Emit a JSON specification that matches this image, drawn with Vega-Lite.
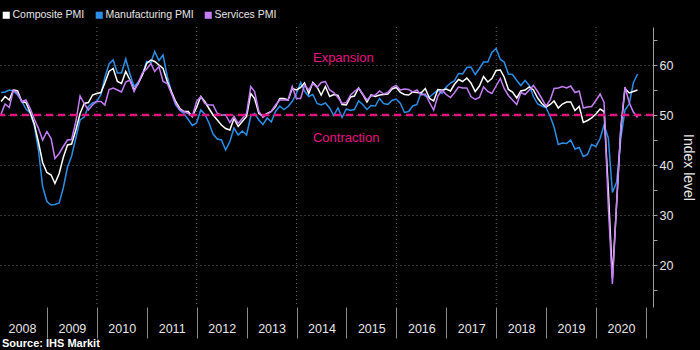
{
"$schema": "https://vega.github.io/schema/vega-lite/v6.json",
"width": 653,
"height": 280,
"autosize": {"type": "none"},
"padding": {"left": 0, "top": 27, "right": 47, "bottom": 43},
"background": "#000000",
"config": {"view": {"stroke": null}, "font": "Liberation Sans"},
"title": {"text": "Source: IHS Markit", "orient": "bottom", "anchor": "start", "frame": "group", "fontSize": 11, "fontWeight": "bold", "color": "#ffffff", "offset": -1, "dx": 2},
"datasets": {
"pmi": [
{"d":"2008-01-31","s":"Manufacturing PMI","v":54.5},{"d":"2008-02-29","s":"Manufacturing PMI","v":54.6},{"d":"2008-03-31","s":"Manufacturing PMI","v":55.0},{"d":"2008-04-30","s":"Manufacturing PMI","v":54.8},{"d":"2008-05-31","s":"Manufacturing PMI","v":54.0},{"d":"2008-06-30","s":"Manufacturing PMI","v":52.8},{"d":"2008-07-31","s":"Manufacturing PMI","v":51.2},{"d":"2008-08-31","s":"Manufacturing PMI","v":50.4},{"d":"2008-09-30","s":"Manufacturing PMI","v":47.9},{"d":"2008-10-31","s":"Manufacturing PMI","v":42.9},{"d":"2008-11-30","s":"Manufacturing PMI","v":35.7},{"d":"2008-12-31","s":"Manufacturing PMI","v":32.7},
{"d":"2009-01-31","s":"Manufacturing PMI","v":32.0},{"d":"2009-02-28","s":"Manufacturing PMI","v":32.1},{"d":"2009-03-31","s":"Manufacturing PMI","v":32.4},{"d":"2009-04-30","s":"Manufacturing PMI","v":35.4},{"d":"2009-05-31","s":"Manufacturing PMI","v":39.6},{"d":"2009-06-30","s":"Manufacturing PMI","v":41.8},{"d":"2009-07-31","s":"Manufacturing PMI","v":45.4},{"d":"2009-08-31","s":"Manufacturing PMI","v":49.0},{"d":"2009-09-30","s":"Manufacturing PMI","v":49.6},{"d":"2009-10-31","s":"Manufacturing PMI","v":51.7},{"d":"2009-11-30","s":"Manufacturing PMI","v":52.4},{"d":"2009-12-31","s":"Manufacturing PMI","v":52.7},
{"d":"2010-01-31","s":"Manufacturing PMI","v":54.1},{"d":"2010-02-28","s":"Manufacturing PMI","v":57.5},{"d":"2010-03-31","s":"Manufacturing PMI","v":60.2},{"d":"2010-04-30","s":"Manufacturing PMI","v":61.0},{"d":"2010-05-31","s":"Manufacturing PMI","v":58.4},{"d":"2010-06-30","s":"Manufacturing PMI","v":58.4},{"d":"2010-07-31","s":"Manufacturing PMI","v":61.2},{"d":"2010-08-31","s":"Manufacturing PMI","v":58.2},{"d":"2010-09-30","s":"Manufacturing PMI","v":55.7},{"d":"2010-10-31","s":"Manufacturing PMI","v":56.6},{"d":"2010-11-30","s":"Manufacturing PMI","v":58.1},{"d":"2010-12-31","s":"Manufacturing PMI","v":60.7},
{"d":"2011-01-31","s":"Manufacturing PMI","v":60.5},{"d":"2011-02-28","s":"Manufacturing PMI","v":62.7},{"d":"2011-03-31","s":"Manufacturing PMI","v":60.9},{"d":"2011-04-30","s":"Manufacturing PMI","v":62.0},{"d":"2011-05-31","s":"Manufacturing PMI","v":57.7},{"d":"2011-06-30","s":"Manufacturing PMI","v":54.6},{"d":"2011-07-31","s":"Manufacturing PMI","v":52.0},{"d":"2011-08-31","s":"Manufacturing PMI","v":50.9},{"d":"2011-09-30","s":"Manufacturing PMI","v":50.3},{"d":"2011-10-31","s":"Manufacturing PMI","v":49.1},{"d":"2011-11-30","s":"Manufacturing PMI","v":47.9},{"d":"2011-12-31","s":"Manufacturing PMI","v":48.4},
{"d":"2012-01-31","s":"Manufacturing PMI","v":51.0},{"d":"2012-02-29","s":"Manufacturing PMI","v":50.2},{"d":"2012-03-31","s":"Manufacturing PMI","v":48.4},{"d":"2012-04-30","s":"Manufacturing PMI","v":46.2},{"d":"2012-05-31","s":"Manufacturing PMI","v":45.2},{"d":"2012-06-30","s":"Manufacturing PMI","v":45.0},{"d":"2012-07-31","s":"Manufacturing PMI","v":43.0},{"d":"2012-08-31","s":"Manufacturing PMI","v":44.7},{"d":"2012-09-30","s":"Manufacturing PMI","v":47.4},{"d":"2012-10-31","s":"Manufacturing PMI","v":46.0},{"d":"2012-11-30","s":"Manufacturing PMI","v":46.8},{"d":"2012-12-31","s":"Manufacturing PMI","v":46.0},
{"d":"2013-01-31","s":"Manufacturing PMI","v":49.8},{"d":"2013-02-28","s":"Manufacturing PMI","v":50.3},{"d":"2013-03-31","s":"Manufacturing PMI","v":49.0},{"d":"2013-04-30","s":"Manufacturing PMI","v":48.1},{"d":"2013-05-31","s":"Manufacturing PMI","v":49.4},{"d":"2013-06-30","s":"Manufacturing PMI","v":48.6},{"d":"2013-07-31","s":"Manufacturing PMI","v":50.7},{"d":"2013-08-31","s":"Manufacturing PMI","v":51.8},{"d":"2013-09-30","s":"Manufacturing PMI","v":51.1},{"d":"2013-10-31","s":"Manufacturing PMI","v":51.7},{"d":"2013-11-30","s":"Manufacturing PMI","v":52.7},{"d":"2013-12-31","s":"Manufacturing PMI","v":54.3},
{"d":"2014-01-31","s":"Manufacturing PMI","v":56.5},{"d":"2014-02-28","s":"Manufacturing PMI","v":54.8},{"d":"2014-03-31","s":"Manufacturing PMI","v":53.7},{"d":"2014-04-30","s":"Manufacturing PMI","v":54.1},{"d":"2014-05-31","s":"Manufacturing PMI","v":52.3},{"d":"2014-06-30","s":"Manufacturing PMI","v":52.0},{"d":"2014-07-31","s":"Manufacturing PMI","v":52.4},{"d":"2014-08-31","s":"Manufacturing PMI","v":51.4},{"d":"2014-09-30","s":"Manufacturing PMI","v":49.9},{"d":"2014-10-31","s":"Manufacturing PMI","v":51.4},{"d":"2014-11-30","s":"Manufacturing PMI","v":49.5},{"d":"2014-12-31","s":"Manufacturing PMI","v":51.2},
{"d":"2015-01-31","s":"Manufacturing PMI","v":50.9},{"d":"2015-02-28","s":"Manufacturing PMI","v":51.1},{"d":"2015-03-31","s":"Manufacturing PMI","v":52.8},{"d":"2015-04-30","s":"Manufacturing PMI","v":52.1},{"d":"2015-05-31","s":"Manufacturing PMI","v":51.1},{"d":"2015-06-30","s":"Manufacturing PMI","v":51.9},{"d":"2015-07-31","s":"Manufacturing PMI","v":51.8},{"d":"2015-08-31","s":"Manufacturing PMI","v":53.3},{"d":"2015-09-30","s":"Manufacturing PMI","v":52.3},{"d":"2015-10-31","s":"Manufacturing PMI","v":52.1},{"d":"2015-11-30","s":"Manufacturing PMI","v":52.9},{"d":"2015-12-31","s":"Manufacturing PMI","v":53.2},
{"d":"2016-01-31","s":"Manufacturing PMI","v":52.3},{"d":"2016-02-29","s":"Manufacturing PMI","v":50.5},{"d":"2016-03-31","s":"Manufacturing PMI","v":50.7},{"d":"2016-04-30","s":"Manufacturing PMI","v":51.8},{"d":"2016-05-31","s":"Manufacturing PMI","v":52.1},{"d":"2016-06-30","s":"Manufacturing PMI","v":54.5},{"d":"2016-07-31","s":"Manufacturing PMI","v":53.8},{"d":"2016-08-31","s":"Manufacturing PMI","v":53.6},{"d":"2016-09-30","s":"Manufacturing PMI","v":54.3},{"d":"2016-10-31","s":"Manufacturing PMI","v":55.0},{"d":"2016-11-30","s":"Manufacturing PMI","v":54.3},{"d":"2016-12-31","s":"Manufacturing PMI","v":55.6},
{"d":"2017-01-31","s":"Manufacturing PMI","v":56.4},{"d":"2017-02-28","s":"Manufacturing PMI","v":56.8},{"d":"2017-03-31","s":"Manufacturing PMI","v":58.3},{"d":"2017-04-30","s":"Manufacturing PMI","v":58.2},{"d":"2017-05-31","s":"Manufacturing PMI","v":59.5},{"d":"2017-06-30","s":"Manufacturing PMI","v":59.6},{"d":"2017-07-31","s":"Manufacturing PMI","v":58.1},{"d":"2017-08-31","s":"Manufacturing PMI","v":59.3},{"d":"2017-09-30","s":"Manufacturing PMI","v":60.6},{"d":"2017-10-31","s":"Manufacturing PMI","v":60.6},{"d":"2017-11-30","s":"Manufacturing PMI","v":62.5},{"d":"2017-12-31","s":"Manufacturing PMI","v":63.3},
{"d":"2018-01-31","s":"Manufacturing PMI","v":61.1},{"d":"2018-02-28","s":"Manufacturing PMI","v":60.6},{"d":"2018-03-31","s":"Manufacturing PMI","v":58.2},{"d":"2018-04-30","s":"Manufacturing PMI","v":58.1},{"d":"2018-05-31","s":"Manufacturing PMI","v":56.9},{"d":"2018-06-30","s":"Manufacturing PMI","v":55.9},{"d":"2018-07-31","s":"Manufacturing PMI","v":56.9},{"d":"2018-08-31","s":"Manufacturing PMI","v":55.9},{"d":"2018-09-30","s":"Manufacturing PMI","v":53.7},{"d":"2018-10-31","s":"Manufacturing PMI","v":52.2},{"d":"2018-11-30","s":"Manufacturing PMI","v":51.8},{"d":"2018-12-31","s":"Manufacturing PMI","v":51.5},
{"d":"2019-01-31","s":"Manufacturing PMI","v":49.7},{"d":"2019-02-28","s":"Manufacturing PMI","v":47.6},{"d":"2019-03-31","s":"Manufacturing PMI","v":44.1},{"d":"2019-04-30","s":"Manufacturing PMI","v":44.4},{"d":"2019-05-31","s":"Manufacturing PMI","v":44.3},{"d":"2019-06-30","s":"Manufacturing PMI","v":45.0},{"d":"2019-07-31","s":"Manufacturing PMI","v":43.2},{"d":"2019-08-31","s":"Manufacturing PMI","v":43.5},{"d":"2019-09-30","s":"Manufacturing PMI","v":41.7},{"d":"2019-10-31","s":"Manufacturing PMI","v":42.1},{"d":"2019-11-30","s":"Manufacturing PMI","v":44.1},{"d":"2019-12-31","s":"Manufacturing PMI","v":43.7},
{"d":"2020-01-31","s":"Manufacturing PMI","v":45.3},{"d":"2020-02-29","s":"Manufacturing PMI","v":48.0},{"d":"2020-03-31","s":"Manufacturing PMI","v":45.4},{"d":"2020-04-30","s":"Manufacturing PMI","v":34.5},{"d":"2020-05-31","s":"Manufacturing PMI","v":36.6},{"d":"2020-06-30","s":"Manufacturing PMI","v":45.2},{"d":"2020-07-31","s":"Manufacturing PMI","v":51.0},{"d":"2020-08-31","s":"Manufacturing PMI","v":52.2},{"d":"2020-09-30","s":"Manufacturing PMI","v":56.4},{"d":"2020-10-31","s":"Manufacturing PMI","v":58.2},
{"d":"2008-01-31","s":"Composite PMI","v":52.7},{"d":"2008-02-29","s":"Composite PMI","v":53.7},{"d":"2008-03-31","s":"Composite PMI","v":53.0},{"d":"2008-04-30","s":"Composite PMI","v":55.0},{"d":"2008-05-31","s":"Composite PMI","v":54.8},{"d":"2008-06-30","s":"Composite PMI","v":52.7},{"d":"2008-07-31","s":"Composite PMI","v":52.5},{"d":"2008-08-31","s":"Composite PMI","v":50.5},{"d":"2008-09-30","s":"Composite PMI","v":48.2},{"d":"2008-10-31","s":"Composite PMI","v":44.5},{"d":"2008-11-30","s":"Composite PMI","v":40.5},{"d":"2008-12-31","s":"Composite PMI","v":38.5},
{"d":"2009-01-31","s":"Composite PMI","v":38.0},{"d":"2009-02-28","s":"Composite PMI","v":36.3},{"d":"2009-03-31","s":"Composite PMI","v":38.3},{"d":"2009-04-30","s":"Composite PMI","v":41.5},{"d":"2009-05-31","s":"Composite PMI","v":44.0},{"d":"2009-06-30","s":"Composite PMI","v":44.2},{"d":"2009-07-31","s":"Composite PMI","v":47.0},{"d":"2009-08-31","s":"Composite PMI","v":50.3},{"d":"2009-09-30","s":"Composite PMI","v":52.3},{"d":"2009-10-31","s":"Composite PMI","v":52.5},{"d":"2009-11-30","s":"Composite PMI","v":54.0},{"d":"2009-12-31","s":"Composite PMI","v":54.3},
{"d":"2010-01-31","s":"Composite PMI","v":54.5},{"d":"2010-02-28","s":"Composite PMI","v":56.4},{"d":"2010-03-31","s":"Composite PMI","v":58.7},{"d":"2010-04-30","s":"Composite PMI","v":59.3},{"d":"2010-05-31","s":"Composite PMI","v":56.7},{"d":"2010-06-30","s":"Composite PMI","v":56.3},{"d":"2010-07-31","s":"Composite PMI","v":58.7},{"d":"2010-08-31","s":"Composite PMI","v":57.0},{"d":"2010-09-30","s":"Composite PMI","v":55.0},{"d":"2010-10-31","s":"Composite PMI","v":56.3},{"d":"2010-11-30","s":"Composite PMI","v":58.0},{"d":"2010-12-31","s":"Composite PMI","v":60.3},
{"d":"2011-01-31","s":"Composite PMI","v":61.0},{"d":"2011-02-28","s":"Composite PMI","v":60.7},{"d":"2011-03-31","s":"Composite PMI","v":60.0},{"d":"2011-04-30","s":"Composite PMI","v":59.3},{"d":"2011-05-31","s":"Composite PMI","v":56.7},{"d":"2011-06-30","s":"Composite PMI","v":54.7},{"d":"2011-07-31","s":"Composite PMI","v":52.7},{"d":"2011-08-31","s":"Composite PMI","v":51.3},{"d":"2011-09-30","s":"Composite PMI","v":50.7},{"d":"2011-10-31","s":"Composite PMI","v":50.7},{"d":"2011-11-30","s":"Composite PMI","v":49.7},{"d":"2011-12-31","s":"Composite PMI","v":51.5},
{"d":"2012-01-31","s":"Composite PMI","v":53.7},{"d":"2012-02-29","s":"Composite PMI","v":52.7},{"d":"2012-03-31","s":"Composite PMI","v":51.3},{"d":"2012-04-30","s":"Composite PMI","v":50.0},{"d":"2012-05-31","s":"Composite PMI","v":49.0},{"d":"2012-06-30","s":"Composite PMI","v":48.0},{"d":"2012-07-31","s":"Composite PMI","v":47.3},{"d":"2012-08-31","s":"Composite PMI","v":47.0},{"d":"2012-09-30","s":"Composite PMI","v":49.3},{"d":"2012-10-31","s":"Composite PMI","v":47.7},{"d":"2012-11-30","s":"Composite PMI","v":48.7},{"d":"2012-12-31","s":"Composite PMI","v":49.7},
{"d":"2013-01-31","s":"Composite PMI","v":54.3},{"d":"2013-02-28","s":"Composite PMI","v":53.3},{"d":"2013-03-31","s":"Composite PMI","v":50.3},{"d":"2013-04-30","s":"Composite PMI","v":49.8},{"d":"2013-05-31","s":"Composite PMI","v":50.3},{"d":"2013-06-30","s":"Composite PMI","v":50.7},{"d":"2013-07-31","s":"Composite PMI","v":51.7},{"d":"2013-08-31","s":"Composite PMI","v":53.3},{"d":"2013-09-30","s":"Composite PMI","v":53.3},{"d":"2013-10-31","s":"Composite PMI","v":53.0},{"d":"2013-11-30","s":"Composite PMI","v":55.3},{"d":"2013-12-31","s":"Composite PMI","v":55.0},
{"d":"2014-01-31","s":"Composite PMI","v":55.5},{"d":"2014-02-28","s":"Composite PMI","v":56.4},{"d":"2014-03-31","s":"Composite PMI","v":54.3},{"d":"2014-04-30","s":"Composite PMI","v":56.5},{"d":"2014-05-31","s":"Composite PMI","v":55.6},{"d":"2014-06-30","s":"Composite PMI","v":54.0},{"d":"2014-07-31","s":"Composite PMI","v":55.7},{"d":"2014-08-31","s":"Composite PMI","v":53.7},{"d":"2014-09-30","s":"Composite PMI","v":54.1},{"d":"2014-10-31","s":"Composite PMI","v":53.9},{"d":"2014-11-30","s":"Composite PMI","v":52.1},{"d":"2014-12-31","s":"Composite PMI","v":52.0},
{"d":"2015-01-31","s":"Composite PMI","v":53.6},{"d":"2015-02-28","s":"Composite PMI","v":53.8},{"d":"2015-03-31","s":"Composite PMI","v":55.4},{"d":"2015-04-30","s":"Composite PMI","v":54.1},{"d":"2015-05-31","s":"Composite PMI","v":52.6},{"d":"2015-06-30","s":"Composite PMI","v":54.0},{"d":"2015-07-31","s":"Composite PMI","v":53.7},{"d":"2015-08-31","s":"Composite PMI","v":54.0},{"d":"2015-09-30","s":"Composite PMI","v":54.1},{"d":"2015-10-31","s":"Composite PMI","v":54.2},{"d":"2015-11-30","s":"Composite PMI","v":55.2},{"d":"2015-12-31","s":"Composite PMI","v":55.5},
{"d":"2016-01-31","s":"Composite PMI","v":54.5},{"d":"2016-02-29","s":"Composite PMI","v":54.1},{"d":"2016-03-31","s":"Composite PMI","v":54.0},{"d":"2016-04-30","s":"Composite PMI","v":54.6},{"d":"2016-05-31","s":"Composite PMI","v":54.5},{"d":"2016-06-30","s":"Composite PMI","v":54.4},{"d":"2016-07-31","s":"Composite PMI","v":55.3},{"d":"2016-08-31","s":"Composite PMI","v":53.3},{"d":"2016-09-30","s":"Composite PMI","v":52.8},{"d":"2016-10-31","s":"Composite PMI","v":55.1},{"d":"2016-11-30","s":"Composite PMI","v":55.0},{"d":"2016-12-31","s":"Composite PMI","v":55.2},
{"d":"2017-01-31","s":"Composite PMI","v":54.8},{"d":"2017-02-28","s":"Composite PMI","v":56.1},{"d":"2017-03-31","s":"Composite PMI","v":57.1},{"d":"2017-04-30","s":"Composite PMI","v":56.7},{"d":"2017-05-31","s":"Composite PMI","v":57.4},{"d":"2017-06-30","s":"Composite PMI","v":56.4},{"d":"2017-07-31","s":"Composite PMI","v":54.7},{"d":"2017-08-31","s":"Composite PMI","v":55.8},{"d":"2017-09-30","s":"Composite PMI","v":57.7},{"d":"2017-10-31","s":"Composite PMI","v":56.6},{"d":"2017-11-30","s":"Composite PMI","v":57.3},{"d":"2017-12-31","s":"Composite PMI","v":58.9},
{"d":"2018-01-31","s":"Composite PMI","v":59.0},{"d":"2018-02-28","s":"Composite PMI","v":57.6},{"d":"2018-03-31","s":"Composite PMI","v":55.1},{"d":"2018-04-30","s":"Composite PMI","v":54.6},{"d":"2018-05-31","s":"Composite PMI","v":53.4},{"d":"2018-06-30","s":"Composite PMI","v":54.8},{"d":"2018-07-31","s":"Composite PMI","v":55.0},{"d":"2018-08-31","s":"Composite PMI","v":55.6},{"d":"2018-09-30","s":"Composite PMI","v":55.0},{"d":"2018-10-31","s":"Composite PMI","v":53.4},{"d":"2018-11-30","s":"Composite PMI","v":52.3},{"d":"2018-12-31","s":"Composite PMI","v":51.6},
{"d":"2019-01-31","s":"Composite PMI","v":52.1},{"d":"2019-02-28","s":"Composite PMI","v":52.8},{"d":"2019-03-31","s":"Composite PMI","v":51.4},{"d":"2019-04-30","s":"Composite PMI","v":52.2},{"d":"2019-05-31","s":"Composite PMI","v":52.6},{"d":"2019-06-30","s":"Composite PMI","v":52.6},{"d":"2019-07-31","s":"Composite PMI","v":50.9},{"d":"2019-08-31","s":"Composite PMI","v":51.7},{"d":"2019-09-30","s":"Composite PMI","v":48.5},{"d":"2019-10-31","s":"Composite PMI","v":48.9},{"d":"2019-11-30","s":"Composite PMI","v":49.4},{"d":"2019-12-31","s":"Composite PMI","v":50.2},
{"d":"2020-01-31","s":"Composite PMI","v":51.2},{"d":"2020-02-29","s":"Composite PMI","v":50.7},{"d":"2020-03-31","s":"Composite PMI","v":35.0},{"d":"2020-04-30","s":"Composite PMI","v":17.4},{"d":"2020-05-31","s":"Composite PMI","v":32.3},{"d":"2020-06-30","s":"Composite PMI","v":47.0},{"d":"2020-07-31","s":"Composite PMI","v":55.3},{"d":"2020-08-31","s":"Composite PMI","v":54.4},{"d":"2020-09-30","s":"Composite PMI","v":54.7},{"d":"2020-10-31","s":"Composite PMI","v":55.0},
{"d":"2008-01-31","s":"Services PMI","v":50.2},{"d":"2008-02-29","s":"Services PMI","v":52.2},{"d":"2008-03-31","s":"Services PMI","v":51.5},{"d":"2008-04-30","s":"Services PMI","v":55.0},{"d":"2008-05-31","s":"Services PMI","v":54.3},{"d":"2008-06-30","s":"Services PMI","v":52.7},{"d":"2008-07-31","s":"Services PMI","v":53.0},{"d":"2008-08-31","s":"Services PMI","v":51.3},{"d":"2008-09-30","s":"Services PMI","v":49.2},{"d":"2008-10-31","s":"Services PMI","v":47.3},{"d":"2008-11-30","s":"Services PMI","v":45.0},{"d":"2008-12-31","s":"Services PMI","v":46.7},
{"d":"2009-01-31","s":"Services PMI","v":45.3},{"d":"2009-02-28","s":"Services PMI","v":41.3},{"d":"2009-03-31","s":"Services PMI","v":42.3},{"d":"2009-04-30","s":"Services PMI","v":43.7},{"d":"2009-05-31","s":"Services PMI","v":45.0},{"d":"2009-06-30","s":"Services PMI","v":45.1},{"d":"2009-07-31","s":"Services PMI","v":48.7},{"d":"2009-08-31","s":"Services PMI","v":53.8},{"d":"2009-09-30","s":"Services PMI","v":52.3},{"d":"2009-10-31","s":"Services PMI","v":51.0},{"d":"2009-11-30","s":"Services PMI","v":52.0},{"d":"2009-12-31","s":"Services PMI","v":52.7},
{"d":"2010-01-31","s":"Services PMI","v":52.7},{"d":"2010-02-28","s":"Services PMI","v":52.0},{"d":"2010-03-31","s":"Services PMI","v":55.1},{"d":"2010-04-30","s":"Services PMI","v":55.4},{"d":"2010-05-31","s":"Services PMI","v":55.0},{"d":"2010-06-30","s":"Services PMI","v":54.6},{"d":"2010-07-31","s":"Services PMI","v":56.6},{"d":"2010-08-31","s":"Services PMI","v":57.0},{"d":"2010-09-30","s":"Services PMI","v":54.7},{"d":"2010-10-31","s":"Services PMI","v":56.5},{"d":"2010-11-30","s":"Services PMI","v":58.4},{"d":"2010-12-31","s":"Services PMI","v":59.2},
{"d":"2011-01-31","s":"Services PMI","v":60.3},{"d":"2011-02-28","s":"Services PMI","v":58.7},{"d":"2011-03-31","s":"Services PMI","v":59.7},{"d":"2011-04-30","s":"Services PMI","v":56.7},{"d":"2011-05-31","s":"Services PMI","v":56.3},{"d":"2011-06-30","s":"Services PMI","v":54.3},{"d":"2011-07-31","s":"Services PMI","v":52.3},{"d":"2011-08-31","s":"Services PMI","v":51.0},{"d":"2011-09-30","s":"Services PMI","v":50.7},{"d":"2011-10-31","s":"Services PMI","v":50.3},{"d":"2011-11-30","s":"Services PMI","v":49.7},{"d":"2011-12-31","s":"Services PMI","v":52.7},
{"d":"2012-01-31","s":"Services PMI","v":53.7},{"d":"2012-02-29","s":"Services PMI","v":52.3},{"d":"2012-03-31","s":"Services PMI","v":52.0},{"d":"2012-04-30","s":"Services PMI","v":52.0},{"d":"2012-05-31","s":"Services PMI","v":50.3},{"d":"2012-06-30","s":"Services PMI","v":50.0},{"d":"2012-07-31","s":"Services PMI","v":50.0},{"d":"2012-08-31","s":"Services PMI","v":48.5},{"d":"2012-09-30","s":"Services PMI","v":49.7},{"d":"2012-10-31","s":"Services PMI","v":48.3},{"d":"2012-11-30","s":"Services PMI","v":49.3},{"d":"2012-12-31","s":"Services PMI","v":50.3},
{"d":"2013-01-31","s":"Services PMI","v":55.7},{"d":"2013-02-28","s":"Services PMI","v":54.7},{"d":"2013-03-31","s":"Services PMI","v":50.7},{"d":"2013-04-30","s":"Services PMI","v":49.5},{"d":"2013-05-31","s":"Services PMI","v":50.2},{"d":"2013-06-30","s":"Services PMI","v":50.7},{"d":"2013-07-31","s":"Services PMI","v":52.0},{"d":"2013-08-31","s":"Services PMI","v":53.0},{"d":"2013-09-30","s":"Services PMI","v":53.0},{"d":"2013-10-31","s":"Services PMI","v":53.0},{"d":"2013-11-30","s":"Services PMI","v":55.7},{"d":"2013-12-31","s":"Services PMI","v":53.3},
{"d":"2014-01-31","s":"Services PMI","v":53.3},{"d":"2014-02-28","s":"Services PMI","v":56.0},{"d":"2014-03-31","s":"Services PMI","v":55.0},{"d":"2014-04-30","s":"Services PMI","v":56.3},{"d":"2014-05-31","s":"Services PMI","v":55.5},{"d":"2014-06-30","s":"Services PMI","v":56.5},{"d":"2014-07-31","s":"Services PMI","v":56.7},{"d":"2014-08-31","s":"Services PMI","v":55.0},{"d":"2014-09-30","s":"Services PMI","v":54.5},{"d":"2014-10-31","s":"Services PMI","v":53.5},{"d":"2014-11-30","s":"Services PMI","v":52.3},{"d":"2014-12-31","s":"Services PMI","v":52.5},
{"d":"2015-01-31","s":"Services PMI","v":54.0},{"d":"2015-02-28","s":"Services PMI","v":54.7},{"d":"2015-03-31","s":"Services PMI","v":55.4},{"d":"2015-04-30","s":"Services PMI","v":54.2},{"d":"2015-05-31","s":"Services PMI","v":53.0},{"d":"2015-06-30","s":"Services PMI","v":53.8},{"d":"2015-07-31","s":"Services PMI","v":54.0},{"d":"2015-08-31","s":"Services PMI","v":54.8},{"d":"2015-09-30","s":"Services PMI","v":54.2},{"d":"2015-10-31","s":"Services PMI","v":54.5},{"d":"2015-11-30","s":"Services PMI","v":55.5},{"d":"2015-12-31","s":"Services PMI","v":55.9},
{"d":"2016-01-31","s":"Services PMI","v":55.0},{"d":"2016-02-29","s":"Services PMI","v":55.2},{"d":"2016-03-31","s":"Services PMI","v":55.1},{"d":"2016-04-30","s":"Services PMI","v":54.6},{"d":"2016-05-31","s":"Services PMI","v":55.0},{"d":"2016-06-30","s":"Services PMI","v":54.0},{"d":"2016-07-31","s":"Services PMI","v":54.2},{"d":"2016-08-31","s":"Services PMI","v":52.5},{"d":"2016-09-30","s":"Services PMI","v":51.0},{"d":"2016-10-31","s":"Services PMI","v":53.8},{"d":"2016-11-30","s":"Services PMI","v":55.0},{"d":"2016-12-31","s":"Services PMI","v":54.1},
{"d":"2017-01-31","s":"Services PMI","v":53.5},{"d":"2017-02-28","s":"Services PMI","v":54.4},{"d":"2017-03-31","s":"Services PMI","v":55.6},{"d":"2017-04-30","s":"Services PMI","v":55.4},{"d":"2017-05-31","s":"Services PMI","v":55.4},{"d":"2017-06-30","s":"Services PMI","v":53.7},{"d":"2017-07-31","s":"Services PMI","v":53.1},{"d":"2017-08-31","s":"Services PMI","v":53.5},{"d":"2017-09-30","s":"Services PMI","v":55.6},{"d":"2017-10-31","s":"Services PMI","v":54.7},{"d":"2017-11-30","s":"Services PMI","v":54.3},{"d":"2017-12-31","s":"Services PMI","v":55.8},
{"d":"2018-01-31","s":"Services PMI","v":57.3},{"d":"2018-02-28","s":"Services PMI","v":55.3},{"d":"2018-03-31","s":"Services PMI","v":53.9},{"d":"2018-04-30","s":"Services PMI","v":53.0},{"d":"2018-05-31","s":"Services PMI","v":52.1},{"d":"2018-06-30","s":"Services PMI","v":54.5},{"d":"2018-07-31","s":"Services PMI","v":54.1},{"d":"2018-08-31","s":"Services PMI","v":55.0},{"d":"2018-09-30","s":"Services PMI","v":55.9},{"d":"2018-10-31","s":"Services PMI","v":54.7},{"d":"2018-11-30","s":"Services PMI","v":53.3},{"d":"2018-12-31","s":"Services PMI","v":51.8},
{"d":"2019-01-31","s":"Services PMI","v":53.0},{"d":"2019-02-28","s":"Services PMI","v":55.3},{"d":"2019-03-31","s":"Services PMI","v":55.4},{"d":"2019-04-30","s":"Services PMI","v":55.7},{"d":"2019-05-31","s":"Services PMI","v":55.4},{"d":"2019-06-30","s":"Services PMI","v":55.8},{"d":"2019-07-31","s":"Services PMI","v":54.5},{"d":"2019-08-31","s":"Services PMI","v":54.8},{"d":"2019-09-30","s":"Services PMI","v":51.4},{"d":"2019-10-31","s":"Services PMI","v":51.6},{"d":"2019-11-30","s":"Services PMI","v":51.7},{"d":"2019-12-31","s":"Services PMI","v":52.9},
{"d":"2020-01-31","s":"Services PMI","v":54.2},{"d":"2020-02-29","s":"Services PMI","v":52.5},{"d":"2020-03-31","s":"Services PMI","v":31.7},{"d":"2020-04-30","s":"Services PMI","v":16.2},{"d":"2020-05-31","s":"Services PMI","v":32.6},{"d":"2020-06-30","s":"Services PMI","v":47.3},{"d":"2020-07-31","s":"Services PMI","v":55.6},{"d":"2020-08-31","s":"Services PMI","v":52.5},{"d":"2020-09-30","s":"Services PMI","v":50.6},{"d":"2020-10-31","s":"Services PMI","v":49.5}
]
},
"layer": [
{
"data": {"values": [{"g": "2010-01-01"}, {"g": "2012-01-01"}, {"g": "2014-01-01"}, {"g": "2016-01-01"}, {"g": "2018-01-01"}, {"g": "2020-01-01"}]},
"mark": {"type": "rule", "color": "#6a6a6a", "strokeWidth": 1, "strokeDash": [1, 3]},
"encoding": {
"x": {"field": "g", "type": "temporal",
"scale": {"domain": [{"year": 2008, "month": 1, "date": 23}, {"year": 2021, "month": 2, "date": 21}]},
"axis": {"orient": "bottom", "values": [{"year":2009,"month":1,"date":1},{"year":2010,"month":1,"date":1},{"year":2011,"month":1,"date":1},{"year":2012,"month":1,"date":1},{"year":2013,"month":1,"date":1},{"year":2014,"month":1,"date":1},{"year":2015,"month":1,"date":1},{"year":2016,"month":1,"date":1},{"year":2017,"month":1,"date":1},{"year":2018,"month":1,"date":1},{"year":2019,"month":1,"date":1},{"year":2020,"month":1,"date":1},{"year":2021,"month":1,"date":1}],
"labels": false, "domain": false, "grid": false, "ticks": true, "tickSize": 31, "tickColor": "#8a8a8a", "tickWidth": 1, "title": null}}
}
},
{
"data": {"values": [{"label": "Expansion", "d": "2014-05-01", "v": 61.4}]},
"mark": {"type": "text", "align": "left", "baseline": "middle", "fontSize": 13, "color": "#e8127f"},
"encoding": {
"x": {"field": "d", "type": "temporal",
"scale": {"domain": [{"year": 2008, "month": 1, "date": 23}, {"year": 2021, "month": 2, "date": 21}]},
"axis": null},
"y": {"field": "v", "type": "quantitative",
"scale": {"domain": [11.6, 67.6], "nice": false, "zero": false},
"axis": {"orient": "right", "values": [15, 25, 35, 45, 55, 65], "labels": false, "domain": false, "grid": false, "tickSize": 4, "tickColor": "#a0a0a0", "title": null}},
"text": {"field": "label"}
}
},
{
"data": {"values": [{"label": "Contraction", "d": "2014-05-01", "v": 45.4}]},
"mark": {"type": "text", "align": "left", "baseline": "middle", "fontSize": 13, "color": "#e8127f"},
"encoding": {
"x": {"field": "d", "type": "temporal",
"scale": {"domain": [{"year": 2008, "month": 1, "date": 23}, {"year": 2021, "month": 2, "date": 21}]},
"axis": null},
"y": {"field": "v", "type": "quantitative", "scale": {"domain": [11.6, 67.6], "nice": false, "zero": false}, "axis": null},
"text": {"field": "label"}
}
},
{
"data": {"name": "pmi"},
"mark": {"type": "line", "strokeWidth": 1.5, "interpolate": "linear"},
"encoding": {
"x": {"field": "d", "type": "temporal",
"scale": {"domain": [{"year": 2008, "month": 1, "date": 23}, {"year": 2021, "month": 2, "date": 21}]},
"axis": {"orient": "bottom", "values": [{"year":2008,"month":7,"date":2},{"year":2009,"month":7,"date":2},{"year":2010,"month":7,"date":2},{"year":2011,"month":7,"date":2},{"year":2012,"month":7,"date":2},{"year":2013,"month":7,"date":2},{"year":2014,"month":7,"date":2},{"year":2015,"month":7,"date":2},{"year":2016,"month":7,"date":2},{"year":2017,"month":7,"date":2},{"year":2018,"month":7,"date":2},{"year":2019,"month":7,"date":2},{"year":2020,"month":7,"date":2}],
"format": "%Y", "labelAlign": "center", "ticks": false, "domain": false, "grid": false, "labelPadding": 15, "labelColor": "#e6e6e6", "labelFontSize": 12.5, "labelFlush": false, "labelOverlap": false, "title": null}},
"y": {"field": "v", "type": "quantitative",
"scale": {"domain": [11.6, 67.6], "nice": false, "zero": false},
"axis": {"orient": "right", "values": [20, 30, 40, 50, 60], "tickSize": 4, "tickColor": "#a0a0a0", "domainColor": "#a0a0a0", "labelColor": "#e6e6e6", "labelFontSize": 12.5, "labelPadding": 2, "grid": true, "gridColor": "#6a6a6a", "gridDash": [1, 3], "title": "Index level", "titleColor": "#e6e6e6", "titleFontSize": 14, "titleFontWeight": "normal", "titlePadding": 8}},
"color": {"field": "s", "type": "nominal",
"scale": {"domain": ["Composite PMI", "Manufacturing PMI", "Services PMI"], "range": ["#ffffff", "#2b8fe8", "#c47ef5"]},
"legend": {"title": null, "orient": "none", "legendX": 1, "legendY": -17, "direction": "horizontal", "gridAlign": "none", "symbolType": "square", "symbolSize": 50, "symbolStrokeWidth": 0, "labelColor": "#e6e6e6", "labelFontSize": 10.5, "labelOffset": 1, "columnPadding": 9, "padding": 0,
"encode": {"symbols": {"update": {"fill": {"scale": "color", "field": "value"}, "fillOpacity": {"value": 1}}}}}}
}
},
{
"data": {"values": [{"level": 50}]},
"mark": {"type": "rule", "color": "#e8127f", "strokeWidth": 2.5, "strokeDash": [7, 5]},
"encoding": {"y": {"field": "level", "type": "quantitative", "scale": {"domain": [11.6, 67.6], "nice": false, "zero": false}, "axis": null}}
}
],
"resolve": {"scale": {"x": "independent", "y": "independent"}, "axis": {"x": "independent", "y": "independent"}}
}
